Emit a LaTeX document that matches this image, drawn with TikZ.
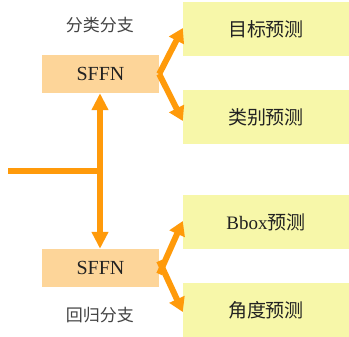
\documentclass[tikz,border=0pt]{standalone}
\usepackage{fontspec}
\setmainfont{Liberation Serif}
\newfontfamily\cjk{Noto Sans CJK SC}
\usetikzlibrary{arrows.meta}
\definecolor{arrowor}{HTML}{FF9A0A}
\definecolor{peach}{HTML}{FDD599}
\definecolor{lyellow}{HTML}{F7F7A9}
\definecolor{txt}{HTML}{222222}
\tikzset{
  sffn/.style={fill=peach, minimum width=117pt, minimum height=38pt, inner sep=0pt, text=txt, font=\fontsize{20}{20}\selectfont},
  predbox/.style={fill=lyellow, minimum width=166pt, minimum height=54pt, inner sep=0pt, text=txt, font=\fontsize{19}{19}\selectfont},
  branchlbl/.style={text=txt!85, font=\cjk\fontsize{17}{17}\selectfont},
  flow/.style={draw=arrowor, line width=6pt},
  flowarrow/.style={flow, -{Triangle[width=16pt,length=14pt]}},
}
\begin{document}
\begin{tikzpicture}[x=1pt,y=-1pt]
\useasboundingbox (0,0) rectangle (349,337);
\node[sffn] (s1) at (100.5,74) {SFFN};
\node[sffn] (s2) at (100.5,268) {SFFN};
\node[predbox] (t1) at (266,29) {{\cjk 目标预测}};
\node[predbox] (t2) at (266,117) {{\cjk 类别预测}};
\node[predbox] (t3) at (266,222) {Bbox{\cjk 预测}};
\node[predbox] (t4) at (266,310) {{\cjk 角度预测}};
\node[branchlbl] (l1) at (100,25) {分类分支};
\node[branchlbl] (l2) at (100,315) {回归分支};
\coordinate (in) at (8,171);
\coordinate (j) at (100,171);
\draw[flow, {Triangle[width=16pt,length=17pt]}-{Triangle[width=16pt,length=17pt]}] (s1.south -| j) -- (s2.north -| j);
\draw[flow] (in) -- ([xshift=3pt]j);
\draw[flowarrow] (s1.east) -- ([yshift=1pt]t1.west);
\draw[flowarrow] (s1.east) -- ([yshift=-4pt]t2.west);
\draw[flowarrow] ([yshift=-6pt]s2.east) -- ([yshift=1pt]t3.west);
\draw[flowarrow] ([yshift=7pt]s2.east) -- ([yshift=-2pt]t4.west);
\end{tikzpicture}
\end{document}
